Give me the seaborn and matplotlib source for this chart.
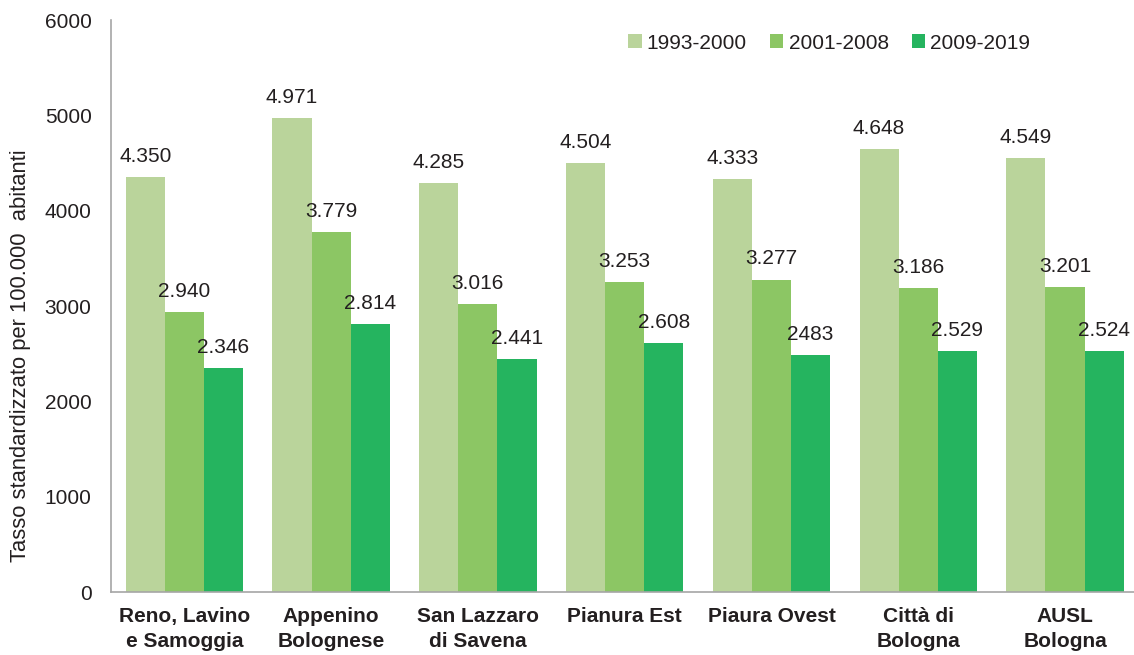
import numpy as np
import pandas as pd
import matplotlib
matplotlib.use("Agg")
import matplotlib.pyplot as plt
import seaborn as sns

# data
districts = ["Reno, Lavino\ne Samoggia", "Appenino\nBolognese", "San Lazzaro\ndi Savena",
             "Pianura Est", "Piaura Ovest", "Città di\nBologna", "AUSL\nBologna"]
periods = ["1993-2000", "2001-2008", "2009-2019"]
rate_1993_2000 = [4350, 4971, 4285, 4504, 4333, 4648, 4549]
rate_2001_2008 = [2940, 3779, 3016, 3253, 3277, 3186, 3201]
rate_2009_2019 = [2346, 2814, 2441, 2608, 2483, 2529, 2524]
# value labels as printed on the chart
labels_1993_2000 = ["4.350", "4.971", "4.285", "4.504", "4.333", "4.648", "4.549"]
labels_2001_2008 = ["2.940", "3.779", "3.016", "3.253", "3.277", "3.186", "3.201"]
labels_2009_2019 = ["2.346", "2.814", "2.441", "2.608", "2483", "2.529", "2.524"]

colors = ["#BAD49B", "#8CC664", "#25B45F"]
text_color = "#231F20"

sns.set_theme(style="white")
plt.rcParams["font.family"] = ["Liberation Sans", "DejaVu Sans"]

df = pd.DataFrame({
    "district": districts * 3,
    "period": [p for p in periods for _ in districts],
    "rate": rate_1993_2000 + rate_2001_2008 + rate_2009_2019,
})

fig = plt.figure(figsize=(11.34, 6.55), dpi=100)
ax = fig.add_axes([111 / 1134, 63 / 655, 1023 / 1134, 572 / 655])

sns.barplot(data=df, x="district", y="rate", hue="period", order=districts,
            hue_order=periods, palette=colors, width=0.8, saturation=1,
            edgecolor="none", ax=ax)

all_labels = [labels_1993_2000, labels_2001_2008, labels_2009_2019]
for cont, labs in zip(ax.containers, all_labels):
    ax.bar_label(cont, labels=labs, padding=8, fontsize=15, color=text_color)

ax.set_ylim(0, 6000)
ax.set_xlim(-0.5, 6.47)
ax.set_yticks(np.arange(0, 6001, 1000))
ax.tick_params(axis="y", length=0, pad=14, labelsize=15, labelcolor=text_color)
ax.tick_params(axis="x", length=0, pad=11, labelsize=15, labelcolor=text_color)
for lab in ax.get_xticklabels():
    lab.set_fontweight("bold")
    lab.set_linespacing(1.35)

ax.set_xlabel("")
ax.set_ylabel("Tasso standardizzato per 100.000  abitanti", fontsize=15.8, color=text_color)
ax.yaxis.set_label_coords(-0.078, 0.414)

sns.despine(ax=ax)
for side in ["left", "bottom"]:
    ax.spines[side].set_color("#A6A6A6")
    ax.spines[side].set_linewidth(1.2)

ax.legend(loc="upper right", bbox_to_anchor=(0.917, 1.009), ncol=3, frameon=False,
          fontsize=15, handlelength=0.65, handleheight=0.65, handletextpad=0.25,
          columnspacing=1.1, labelcolor=text_color)

fig.savefig("out.png", dpi=100)
